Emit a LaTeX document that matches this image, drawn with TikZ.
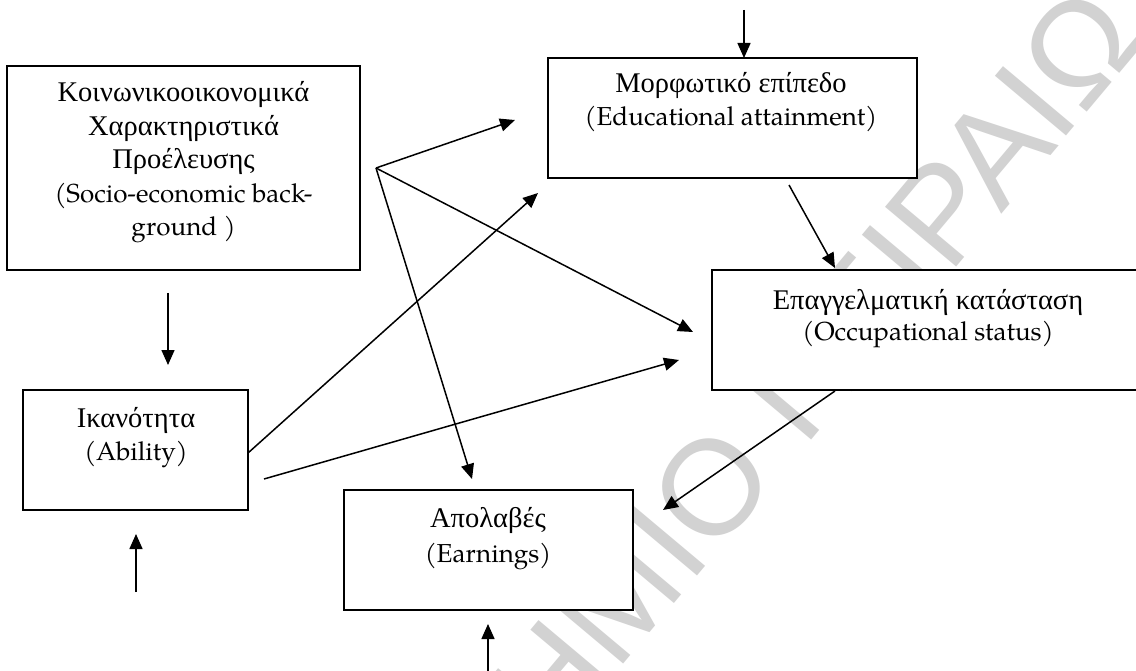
\documentclass[tikz,border=0pt]{standalone}
\usepackage{fontspec}
\setmainfont{TeX Gyre Pagella}
\newfontfamily\grfont{Liberation Serif}
\newfontfamily\wmfont{Liberation Sans}
\usetikzlibrary{arrows.meta}
\tikzset{
  box/.style={draw=black, line width=1.8pt, fill=white, inner sep=0pt, outer sep=0pt},
  txt/.style={anchor=base, inner sep=0pt, font=\fontsize{26}{30}\selectfont},
  gtxt/.style={anchor=base, inner sep=0pt, font=\grfont\fontsize{28.5}{30}\selectfont},
  arr/.style={line width=1.5pt, -{Triangle[length=15pt,width=13pt]}},
  wm/.style={inner sep=0pt, text=gray!35, font=\wmfont\fontsize{135}{135}\selectfont},
}
\begin{document}
\begin{tikzpicture}[x=1pt,y=-1pt]
\useasboundingbox (0,0) rectangle (1136,671);
\clip (0,0) rectangle (1136,671);
\fill[white] (0,0) rectangle (1136,671);
% watermark
\node[wm, rotate=50] (wmark) at (625,590) {ΠΑΝΕΠΙΣΤΗΜΙΟ ΠΕΙΡΑΙΩΣ};
% boxes
\node[box, minimum width=353pt, minimum height=204pt] (b1) at (183.5,168) {};
\node[box, minimum width=369pt, minimum height=120pt] (b2) at (732.5,118) {};
\node[box, minimum width=433pt, minimum height=120pt] (b3) at (928.5,330) {};
\node[box, minimum width=225pt, minimum height=120pt] (ab) at (135.5,450) {};
\node[box, minimum width=289pt, minimum height=120pt] (ea) at (488.5,550) {};
% texts
\node[gtxt] (t1a) at (183.5,102) {Κοινωνικοοικονομικά};
\node[gtxt] (t1b) at (183.5,135.5) {Χαρακτηριστικά};
\node[gtxt] (t1c) at (183.5,169) {Προέλευσης};
\node[txt] (t1d) at (183.5,202.5) {(Socio-economic back-};
\node[txt] (t1e) at (183.5,236) {ground )};
\node[gtxt] (t2a) at (731,93) {Μορφωτικό επίπεδο};
\node[txt] (t2b) at (731,126) {(Educational attainment)};
\node[gtxt] (t3a) at (928,309) {Επαγγελματική κατάσταση};
\node[txt] (t3b) at (928,341) {(Occupational status)};
\node[gtxt] (t4a) at (136,427) {Ικανότητα};
\node[txt] (t4b) at (136,460) {(Ability)};
\node[gtxt] (t5a) at (488,527) {Απολαβές};
\node[txt] (t5b) at (488,562) {(Earnings)};
% connector end points
\coordinate (topin) at (744,10);
\coordinate (topend) at (744,58);
\coordinate (fan) at (376,168);
\coordinate (fanB) at (515,120);
\coordinate (fanC) at (693,332);
\coordinate (fanE) at (472,479);
\coordinate (b1out) at (168,293);
\coordinate (abin) at (168,365);
\coordinate (abup0) at (136,592);
\coordinate (abup1) at (136,534);
\coordinate (abB0) at (248,453);
\coordinate (abB1) at (538,193);
\coordinate (abC0) at (264,479);
\coordinate (abC1) at (679,360);
\coordinate (bC0) at (789,185);
\coordinate (bC1) at (835,268);
\coordinate (cE0) at (835,391);
\coordinate (cE1) at (663,510);
\coordinate (eaup0) at (488,675);
\coordinate (eaup1) at (488,624);
% connectors
\draw[arr] (topin) -- (topend);
\draw[arr] (fan) -- (fanB);
\draw[arr] (fan) -- (fanC);
\draw[arr] (fan) -- (fanE);
\draw[arr] (b1out) -- (abin);
\draw[arr] (abup0) -- (abup1);
\draw[arr] (abB0) -- (abB1);
\draw[arr] (abC0) -- (abC1);
\draw[arr] (bC0) -- (bC1);
\draw[arr] (cE0) -- (cE1);
\draw[arr] (eaup0) -- (eaup1);
\end{tikzpicture}
\end{document}
